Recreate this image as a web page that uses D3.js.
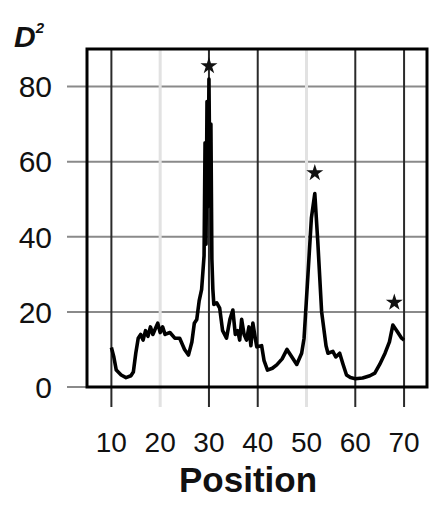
<!DOCTYPE html>
<html>
<head>
<meta charset="utf-8">
<script src="https://cdn.jsdelivr.net/npm/d3@7"></script>
<style>
  body { margin: 0; background: #fff; }
  text { font-family: "Liberation Sans", Arial, sans-serif; }
</style>
</head>
<body>
<div id="chart"></div>
<script>
// D^2 profile along position
const positions = [10, 10.5, 11, 12, 13, 14, 14.5, 15, 15.5, 16, 16.5, 17, 17.5, 18, 18.5, 19, 19.5, 20, 20.5, 21, 22, 23, 24, 25, 25.8, 26.5, 27, 27.5, 28, 28.5,
  29, 29.2, 29.4, 29.6, 29.8, 30, 30.2, 30.4, 30.6, 30.8, 31, 31.6, 32.2, 32.8, 33.6, 34.3, 34.9, 35.4, 35.9, 36.3, 36.7, 37.2, 37.7, 38.2, 38.6, 39, 39.5, 39.8,
  40.8, 41.3, 42, 43, 43.9, 45, 46, 47, 48, 49, 49.5, 50.3, 51, 51.7, 52.3, 53.1, 54, 54.4, 55.4, 56, 56.8, 57.5, 58.2, 59, 60, 61.5, 63, 64,
  65, 66.1, 67, 67.7, 68.5, 69.5, 70];
const d2Values = [10.5, 8, 4.5, 3.2, 2.5, 3, 4, 9, 13, 14, 12.5, 15, 13.5, 16, 14, 15.5, 17, 14.5, 16, 14, 14.5, 13, 13, 10, 8.5, 12, 17, 18, 23, 26,
  35, 65, 38, 76, 48, 82, 52, 70, 34, 26, 22, 22.4, 21, 15, 13, 18, 20.5, 14, 15, 12.5, 18, 14, 12.5, 16, 11, 17, 13, 10.7,
  11, 7, 4.5, 5, 5.9, 7.5, 10, 8, 6, 9, 13, 30, 45, 51.5, 39, 20, 11, 9, 9.5, 8, 9, 6, 3.2, 2.5, 2.2, 2.4, 3, 3.7,
  6, 9, 12, 16.5, 15, 13, 12.5];

// significant peaks marked with stars
const starPos = [30, 51.7, 68];
const starVal = [85.5, 57, 22.5];

const xTicks = [10, 20, 30, 40, 50, 60, 70];
const yTicks = [0, 20, 40, 60, 80];
const lightX = [20, 50];

const W = 433, H = 506;
const plot = { left: 87, right: 427, top: 49, bottom: 387 };

const svg = d3.select("#chart").append("svg")
  .attr("width", W)
  .attr("height", H);

const x = d3.scaleLinear([5, 74.7], [plot.left, plot.right]);
const y = d3.scaleLinear([0, 90], [plot.bottom, plot.top]);

// horizontal grid + outer ticks
svg.append("g")
  .selectAll("line")
  .data(yTicks.filter(d => d > 0))
  .join("line")
  .attr("x1", plot.left - 20)
  .attr("x2", plot.right)
  .attr("y1", d => y(d))
  .attr("y2", d => y(d))
  .attr("stroke", "#8a8a8a")
  .attr("stroke-width", 2);

svg.append("line")
  .attr("x1", plot.left - 20).attr("x2", plot.left)
  .attr("y1", y(0)).attr("y2", y(0))
  .attr("stroke", "#8a8a8a").attr("stroke-width", 2);

// vertical grid, extending below the frame as ticks
svg.append("g")
  .selectAll("line")
  .data(xTicks)
  .join("line")
  .attr("x1", d => x(d))
  .attr("x2", d => x(d))
  .attr("y1", plot.top)
  .attr("y2", plot.bottom + 20)
  .attr("stroke", d => lightX.includes(d) ? "#e2e2e2" : "#2a2a2a")
  .attr("stroke-width", d => lightX.includes(d) ? 3 : 2);

// frame
svg.append("rect")
  .attr("x", plot.left)
  .attr("y", plot.top)
  .attr("width", plot.right - plot.left)
  .attr("height", plot.bottom - plot.top)
  .attr("fill", "none")
  .attr("stroke", "#000")
  .attr("stroke-width", 3);

// the profile line
const line = d3.line()
  .x((d, i) => x(positions[i]))
  .y((d, i) => y(d2Values[i]));

svg.append("path")
  .datum(d2Values)
  .attr("d", line)
  .attr("fill", "none")
  .attr("stroke", "#000")
  .attr("stroke-width", 3.6)
  .attr("stroke-linejoin", "round");

// stars
svg.selectAll(".star")
  .data(starPos)
  .join("path")
  .attr("class", "star")
  .attr("transform", (d, i) => `translate(${x(d)},${y(starVal[i])})`)
  .attr("d", d3.symbol(d3.symbolStar).size(90))
  .attr("fill", "#111");

// y tick labels
svg.selectAll(".ylab")
  .data(yTicks)
  .join("text")
  .attr("class", "ylab")
  .attr("x", 52)
  .attr("y", d => y(d))
  .attr("dy", "0.36em")
  .attr("text-anchor", "end")
  .style("font-size", "30px")
  .style("fill", "#111")
  .text(d => d);

// x tick labels
svg.selectAll(".xlab")
  .data(xTicks)
  .join("text")
  .attr("class", "xlab")
  .attr("x", d => x(d))
  .attr("y", 452)
  .attr("text-anchor", "middle")
  .style("font-size", "28px")
  .style("fill", "#111")
  .text(d => d);

// axis titles
svg.append("text")
  .attr("x", 248)
  .attr("y", 492)
  .attr("text-anchor", "middle")
  .style("font-size", "35px")
  .style("font-weight", "bold")
  .style("fill", "#111")
  .text("Position");

const yt = svg.append("text")
  .attr("x", 14)
  .attr("y", 47)
  .style("font-size", "30px")
  .style("font-weight", "bold")
  .style("font-style", "italic")
  .style("fill", "#111");
yt.append("tspan").text("D");
yt.append("tspan")
  .attr("dy", -14)
  .style("font-size", "15px")
  .text("2");
</script>
</body>
</html>
